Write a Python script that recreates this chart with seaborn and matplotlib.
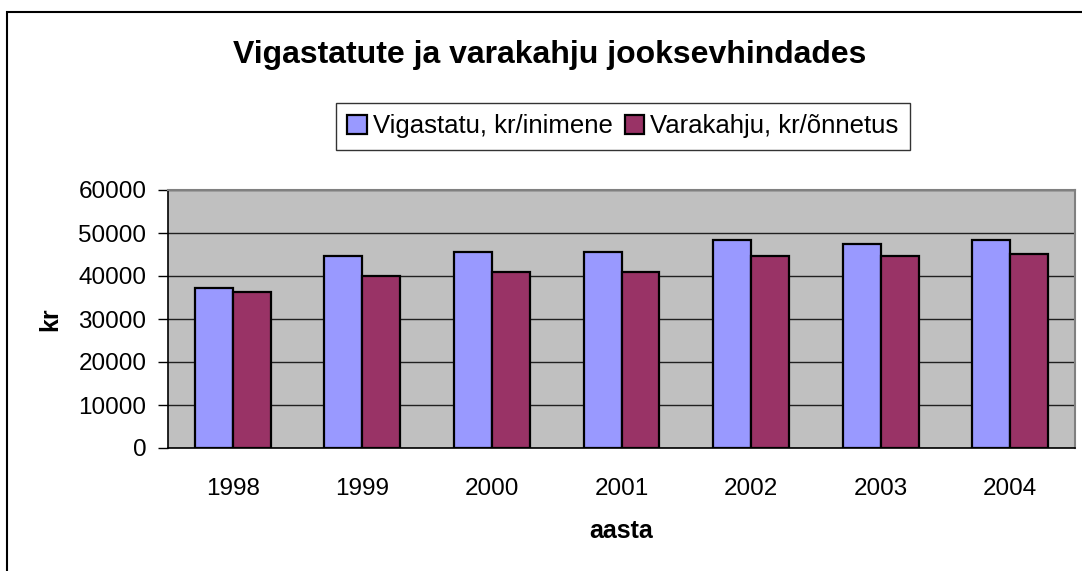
import pandas as pd
import numpy as np
import seaborn as sb
import matplotlib.pyplot as plt
from matplotlib.patches import Rectangle
from matplotlib import font_manager

# data
years = ['1998', '1999', '2000', '2001', '2002', '2003', '2004']
vigastatu = [37100, 44600, 45500, 45500, 48300, 47400, 48300]
varakahju = [36200, 39900, 40900, 40900, 44600, 44600, 45100]
series_names = ['Vigastatu, kr/inimene', 'Varakahju, kr/õnnetus']

df = pd.DataFrame({
    'aasta': years * 2,
    'kr': vigastatu + varakahju,
    'seeria': [series_names[0]] * len(years) + [series_names[1]] * len(years),
})

sb.set_style('white')
plt.rcParams['font.family'] = ['Liberation Sans', 'DejaVu Sans']
plt.rcParams['text.color'] = 'black'
plt.rcParams['axes.labelcolor'] = 'black'
plt.rcParams['xtick.color'] = 'black'
plt.rcParams['ytick.color'] = 'black'

fig = plt.figure(figsize=(10.82, 5.71), dpi=100)
ax = fig.add_axes([168 / 1082, 1 - 448 / 571, (1075 - 168) / 1082, (448 - 190) / 571])

sb.barplot(data=df, x='aasta', y='kr', hue='seeria', palette=['#9999FF', '#993366'],
           width=0.585, edgecolor='black', linewidth=1.6, saturation=1, ax=ax, zorder=3)

ax.set_facecolor('#C0C0C0')
ax.set_ylim(0, 60000)
ax.set_xlim(-0.5, len(years) - 0.5)
ax.set_yticks(np.arange(0, 60001, 10000))
ax.yaxis.grid(True, color='#202020', linewidth=1.0, zorder=0)
ax.set_axisbelow(True)

# category ticks between groups
ax.set_xticks(np.arange(-0.5, len(years), 1), minor=True)
ax.tick_params(axis='x', which='major', length=0, labelsize=17.5, pad=21.5)
ax.tick_params(axis='x', which='minor', length=7, width=1, color='black', direction='out')
ax.tick_params(axis='y', length=7, width=1, color='black', direction='out', labelsize=17.5, pad=8.5)
ax.tick_params(bottom=True, left=True)

for s in ['left', 'bottom']:
    ax.spines[s].set_color('black')
    ax.spines[s].set_linewidth(1.2)
ax.spines['top'].set_color('#808080')
ax.spines['right'].set_color('#808080')
ax.spines['top'].set_linewidth(1.5)
ax.spines['right'].set_linewidth(1.5)

ax.set_xlabel('aasta', fontsize=18, fontweight='bold', labelpad=14)
ax.set_ylabel('kr', fontsize=18, fontweight='bold', labelpad=12)

# title in a narrow face if there is one
names = {f.name for f in font_manager.fontManager.ttflist}
if 'Liberation Sans Narrow' in names:
    title_family, title_size = ['Liberation Sans Narrow', 'Liberation Sans'], 27
else:
    title_family, title_size = ['Liberation Sans', 'DejaVu Sans'], 23
fig.text(0.508, 1 - 55 / 571, 'Vigastatute ja varakahju jooksevhindades',
         ha='center', va='center', fontsize=title_size, fontweight='bold', family=title_family)

handles, labels = ax.get_legend_handles_labels()
ax.legend_.remove()
leg = fig.legend(handles, labels, ncol=2, loc='center', bbox_to_anchor=(623 / 1082, 1 - 126.5 / 571),
                 frameon=True, fancybox=False, edgecolor='black', fontsize=18.5,
                 handlelength=0.75, handleheight=0.75, handletextpad=0.25, columnspacing=0.45,
                 borderpad=0.45, borderaxespad=0)
leg.get_frame().set_linewidth(1.0)

# chart area border
fig.patches.append(Rectangle((7 / 1082, -0.1), 1.2, 1 - 12 / 571 + 0.1, transform=fig.transFigure,
                             fill=False, edgecolor='black', linewidth=1.5))

plt.savefig('out.png', dpi=100)
